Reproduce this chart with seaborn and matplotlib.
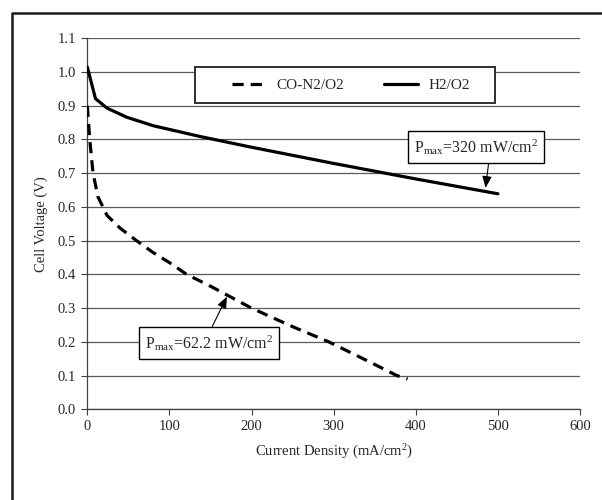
import matplotlib
matplotlib.use("Agg")
import matplotlib.pyplot as plt
from matplotlib.lines import Line2D
from matplotlib.patches import Rectangle
import seaborn as sns
import pandas as pd

# ---- data ----
co_current = [0, 3, 7, 13, 24, 40, 60, 80, 100, 121, 150, 200, 250, 294, 340, 377, 390]
co_voltage = [0.90, 0.80, 0.70, 0.63, 0.575, 0.537, 0.50, 0.465, 0.435, 0.40, 0.365, 0.30, 0.245, 0.20, 0.145, 0.10, 0.09]
h2_current = [0, 10, 24, 48, 80, 137, 200, 250, 300, 350, 400, 450, 500]
h2_voltage = [1.015, 0.921, 0.893, 0.866, 0.841, 0.809, 0.777, 0.753, 0.729, 0.706, 0.683, 0.661, 0.639]
series_names = ["CO-N2/O2", "H2/O2"]
x_ticks = [0, 100, 200, 300, 400, 500, 600]
y_ticks = [0.0, 0.1, 0.2, 0.3, 0.4, 0.5, 0.6, 0.7, 0.8, 0.9, 1.0, 1.1]
pmax_labels = [r"P$_{\mathrm{max}}$=320 mW/cm$^{2}$", r"P$_{\mathrm{max}}$=62.2 mW/cm$^{2}$"]

sns.set_style("white")
plt.rcParams["font.family"] = ["Liberation Serif", "DejaVu Serif"]
plt.rcParams["mathtext.fontset"] = "custom"
plt.rcParams["mathtext.rm"] = "Liberation Serif"
plt.rcParams["mathtext.it"] = "Liberation Serif:italic"

df = pd.concat([
    pd.DataFrame({"Current": co_current, "Voltage": co_voltage, "Series": series_names[0]}),
    pd.DataFrame({"Current": h2_current, "Voltage": h2_voltage, "Series": series_names[1]}),
])

fig = plt.figure(figsize=(6.02, 5.0), dpi=100)
ax = fig.add_axes([0.145, 0.1814, 0.8185, 0.742])

sns.lineplot(data=df[df.Series == series_names[0]], x="Current", y="Voltage",
             ax=ax, color="black", lw=2.3, sort=False, estimator=None,
             label=series_names[0], zorder=3)
sns.lineplot(data=df[df.Series == series_names[1]], x="Current", y="Voltage",
             ax=ax, color="black", lw=2.3, sort=False, estimator=None,
             label=series_names[1], zorder=3)
ax.lines[0].set_dashes((3.5, 2.2))

ax.set_xlim(0, 600)
ax.set_ylim(0, 1.1)
ax.set_xticks(x_ticks)
ax.set_yticks(y_ticks)
ax.set_yticklabels([f"{v:.1f}" for v in y_ticks])
ax.tick_params(axis="both", labelsize=10.5, length=4, width=0.8, color="#404040",
               direction="out", left=True, bottom=True, pad=4)
ax.yaxis.grid(True, color="#5a5a5a", lw=0.9)
ax.xaxis.grid(False)
ax.set_axisbelow(True)
for s in ["top", "right"]:
    ax.spines[s].set_visible(False)
for s in ["left", "bottom"]:
    ax.spines[s].set_color("#404040")
    ax.spines[s].set_linewidth(0.9)

ax.set_xlabel("Current Density (mA/cm$^{2}$)", fontsize=10.5, labelpad=7)
ax.set_ylabel("Cell Voltage (V)", fontsize=10.5, labelpad=7)

# legend box
ax.add_patch(Rectangle((0.2186, 0.825), 0.6089, 0.0975, transform=ax.transAxes,
                       facecolor="white", edgecolor="#303030", lw=1.4, zorder=4))
leg = ax.legend(loc="center", bbox_to_anchor=(0.535, 0.874), ncol=2, frameon=False,
                fontsize=11, handlelength=2.2, handletextpad=0.7, columnspacing=2.6)
leg.set_zorder(5)

bbox = dict(boxstyle="square,pad=0.38", fc="white", ec="black", lw=1.0)
ax.annotate(pmax_labels[0], xy=(485, 0.657), xytext=(473, 0.778),
            ha="center", va="center", fontsize=11.5, bbox=bbox, zorder=6,
            arrowprops=dict(arrowstyle="-|>,head_length=0.6,head_width=0.25",
                            color="black", lw=0.8, relpos=(0.61, 0.0),
                            shrinkA=0, shrinkB=0))
ax.annotate(pmax_labels[1], xy=(170, 0.334), xytext=(148.3, 0.197),
            ha="center", va="center", fontsize=11.5, bbox=bbox, zorder=6,
            arrowprops=dict(arrowstyle="-|>,head_length=0.6,head_width=0.25",
                            color="black", lw=0.8, relpos=(0.5, 1.0),
                            shrinkA=0, shrinkB=0))

# figure frame (left and top edges)
fx = 12 / 602
fy = 1 - 13 / 500
fig.add_artist(Line2D([fx, fx, 1.0], [0.0, fy, fy], transform=fig.transFigure,
                      color="#1a1a1a", lw=1.8))

fig.savefig("out.png", dpi=100)
